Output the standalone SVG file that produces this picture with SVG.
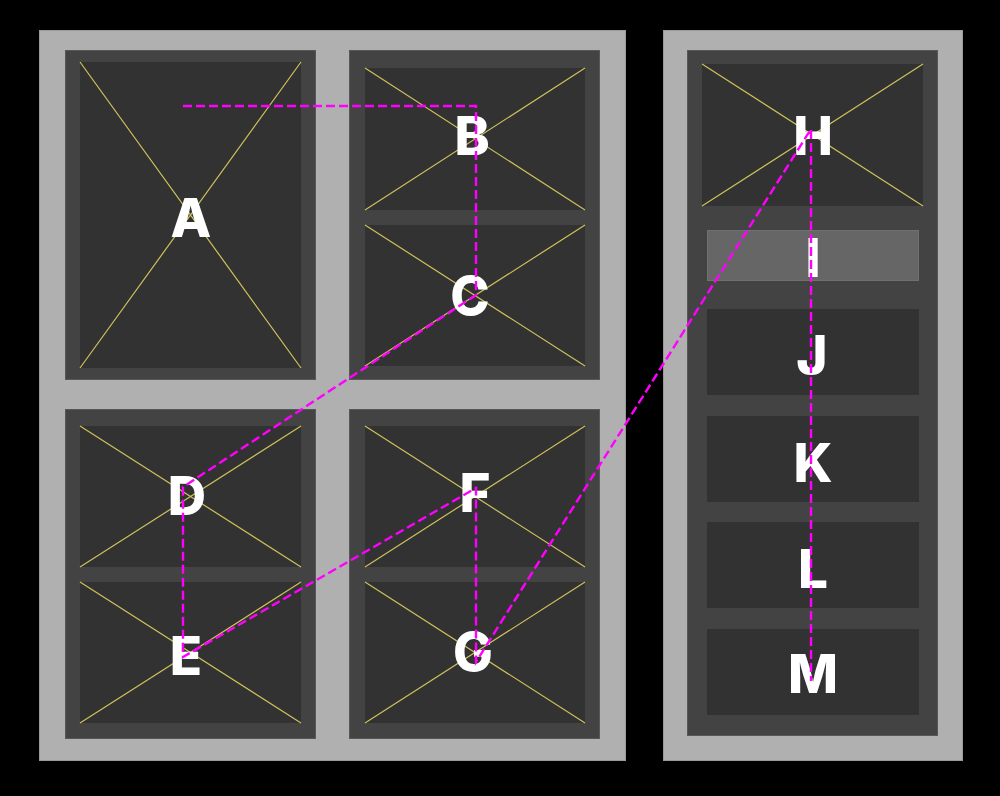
<svg xmlns="http://www.w3.org/2000/svg" width="1000" height="796" viewBox="0 0 1000 796">
<style>
.panel{fill:#b0b0b0;stroke:#9a9a9a;stroke-width:1}
.box{fill:#434343;stroke:#575757;stroke-width:1}
.cell{fill:#323232}
.x{stroke:#cfc25a;stroke-width:1.2;fill:none}
.bar{fill:#666666;stroke:#707070;stroke-width:1}
.lbl{font-family:Inter,"Open Sans","Liberation Sans",sans-serif;font-weight:800;font-size:53px;fill:#ffffff;text-anchor:middle}
.link{fill:none;stroke:#ff00ff;stroke-width:2.4;stroke-dasharray:9 4}
</style>
<rect x="0" y="0" width="1000" height="796" fill="#000000"/>
<rect class="panel" x="39.5" y="30.5" width="586" height="730"/>
<rect class="panel" x="663.5" y="30.5" width="299" height="730"/>
<rect class="box" x="65.5" y="50.5" width="250" height="329"/>
<rect class="box" x="349.5" y="50.5" width="250" height="329"/>
<rect class="box" x="65.5" y="409.5" width="250" height="329"/>
<rect class="box" x="349.5" y="409.5" width="250" height="329"/>
<rect class="box" x="687.5" y="50.5" width="250" height="685"/>
<g id="A">
<rect class="cell" x="80" y="62" width="221" height="306"/>
<path class="x" d="M80 62 L301 368 M301 62 L80 368"/>
<text class="lbl" x="191" y="237">A</text>
</g>
<g id="B">
<rect class="cell" x="365" y="68" width="220" height="142"/>
<path class="x" d="M365 68 L585 210 M585 68 L365 210"/>
<text class="lbl" x="472" y="155">B</text>
</g>
<g id="C">
<rect class="cell" x="365" y="225" width="220" height="141"/>
<path class="x" d="M365 225 L585 366 M585 225 L365 366"/>
<text class="lbl" x="470" y="315">C</text>
</g>
<g id="D">
<rect class="cell" x="80" y="426" width="221" height="141"/>
<path class="x" d="M80 426 L301 567 M301 426 L80 567"/>
<text class="lbl" x="187" y="515">D</text>
</g>
<g id="E">
<rect class="cell" x="80" y="582" width="221" height="141"/>
<path class="x" d="M80 582 L301 723 M301 582 L80 723"/>
<text class="lbl" x="186" y="675">E</text>
</g>
<g id="F">
<rect class="cell" x="365" y="426" width="220" height="141"/>
<path class="x" d="M365 426 L585 567 M585 426 L365 567"/>
<text class="lbl" x="475" y="512">F</text>
</g>
<g id="G">
<rect class="cell" x="365" y="582" width="220" height="141"/>
<path class="x" d="M365 582 L585 723 M585 582 L365 723"/>
<text class="lbl" x="473" y="671">G</text>
</g>
<g id="H">
<rect class="cell" x="702" y="64" width="221" height="142"/>
<path class="x" d="M702 64 L923 206 M923 64 L702 206"/>
<text class="lbl" x="813" y="155">H</text>
</g>
<g id="I">
<rect class="bar" x="707.5" y="230.5" width="211" height="50"/>
<text class="lbl" x="813" y="277">I</text>
</g>
<g id="J">
<rect class="cell" x="707" y="309" width="212" height="86"/>
<text class="lbl" x="812" y="374">J</text>
</g>
<g id="K">
<rect class="cell" x="707" y="416" width="212" height="86"/>
<text class="lbl" x="813" y="482">K</text>
</g>
<g id="L">
<rect class="cell" x="707" y="522" width="212" height="86"/>
<text class="lbl" x="813" y="588">L</text>
</g>
<g id="M">
<rect class="cell" x="707" y="629" width="212" height="86"/>
<text class="lbl" x="813" y="693">M</text>
</g>
<g id="connectors">
<polyline class="link" points="183,106 476,106 476,295 183,487 183,657 476,488 476,662 811,129 811,681"/>
</g>
</svg>
